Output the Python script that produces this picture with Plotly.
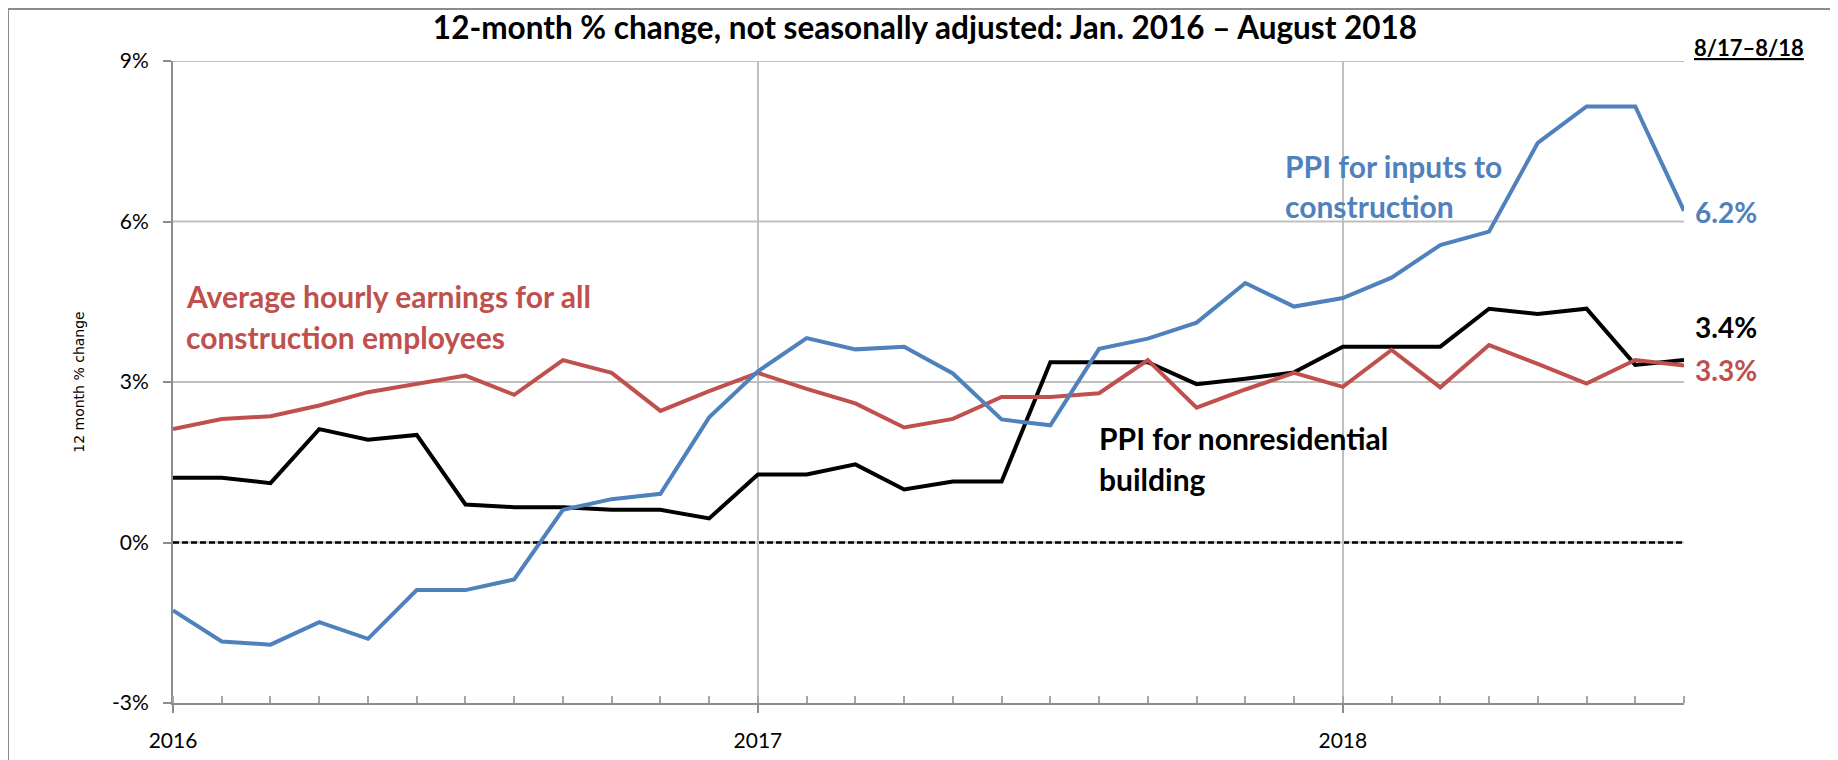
import pandas as pd
import plotly.graph_objects as go

# ---- data (12-month % change), Jan 2016 .. Aug 2018 ----
months = pd.date_range("2016-01-01", "2018-08-01", freq="MS").strftime("%b %Y").tolist()

ppi_inputs = [-1.27, -1.85, -1.91, -1.49, -1.80, -0.89, -0.89, -0.69, 0.61, 0.81, 0.91, 2.34,
              3.20, 3.82, 3.61, 3.66, 3.16, 2.30, 2.19, 3.62, 3.81, 4.11, 4.85, 4.41,
              4.57, 4.95, 5.56, 5.81, 7.47, 8.15, 8.15, 6.20]
ppi_nonres = [1.21, 1.21, 1.11, 2.12, 1.92, 2.01, 0.71, 0.66, 0.66, 0.61, 0.61, 0.45,
              1.27, 1.27, 1.46, 0.99, 1.14, 1.14, 3.37, 3.37, 3.37, 2.96, 3.06, 3.18,
              3.66, 3.66, 3.66, 4.37, 4.27, 4.37, 3.32, 3.41]
ahe_constr = [2.12, 2.31, 2.36, 2.56, 2.81, 2.97, 3.12, 2.76, 3.41, 3.17, 2.46, 2.83,
              3.17, 2.87, 2.60, 2.15, 2.31, 2.72, 2.72, 2.79, 3.41, 2.52, 2.86, 3.17,
              2.91, 3.60, 2.90, 3.69, 3.34, 2.97, 3.41, 3.31]

year_ticks = ["2016", "2017", "2018"]
y_ticks = [-3, 0, 3, 6, 9]
grid_y = [0, 3, 6, 9]

BLUE = "#4F81BD"
RED = "#C0504D"
BLACK = "#000000"
FONT = "Lato"

x = list(range(len(months)))
year_pos = [x[months.index("Jan " + y)] for y in year_ticks]

# page body has an 8px margin; figure is sized/positioned to compensate
OFF = 8
W, H = 1830, 752
L, T = 173 - OFF, 61 - OFF
R = W - (1684 - OFF)
B = H - (703 - OFF)
pw, ph = W - L - R, H - T - B

fig = go.Figure()

for gy in grid_y:
    fig.add_hline(y=gy, line=dict(color="#BFBFBF", width=2), layer="below")
fig.add_hline(y=0, line=dict(color=BLACK, width=2.5, dash="6px,3px"), layer="below")

for vals, col, name in [(ppi_nonres, BLACK, "PPI for nonresidential building"),
                        (ahe_constr, RED, "Average hourly earnings for all construction employees"),
                        (ppi_inputs, BLUE, "PPI for inputs to construction")]:
    fig.add_trace(go.Scatter(x=x, y=vals, mode="lines", name=name, text=months,
                             line=dict(color=col, width=4), cliponaxis=False,
                             hovertemplate="%{text}: %{y:.1f}%<extra></extra>"))

def ann(text, px, py, color, size=30):
    # px, py: screen pixel position (left edge, vertical middle)
    px, py = px - OFF, py - OFF
    fig.add_annotation(x=(px - L) / pw, y=(H - B - py) / ph, xref="paper", yref="paper",
                       text="<b>%s</b>" % text, showarrow=False,
                       xanchor="left", yanchor="middle",
                       font=dict(family=FONT, size=size, color=color))

ann("Average hourly earnings for all", 184, 296, RED)
ann("construction employees", 184, 337, RED)
ann("PPI for inputs to", 1283, 166, BLUE)
ann("construction", 1283, 206, BLUE)
ann("PPI for nonresidential", 1097, 438, BLACK)
ann("building", 1097, 479, BLACK)
ann("6.2%", 1693, 212, BLUE, size=28)
ann("3.4%", 1693, 327, BLACK, size=28)
ann("3.3%", 1693, 370, RED, size=28)
ann("<u>8/17–8/18</u>", 1692, 47, BLACK, size=22)

# outer frame along the figure edge
fig.add_shape(type="rect", xref="paper", yref="paper",
              x0=(0 - L) / pw, x1=(W + 4 - L) / pw,
              y0=(H - B - (H + 4)) / ph, y1=(H - B - 1) / ph,
              line=dict(color="#8C8C8C", width=2), layer="below")

fig.update_layout(
    width=W, height=H,
    margin=dict(l=L, r=R, t=T, b=B, autoexpand=False),
    paper_bgcolor="white", plot_bgcolor="white",
    showlegend=False,
    title=dict(text="<b>12-month % change, not seasonally adjusted: Jan. 2016 – August 2018</b>",
               x=(925 - OFF - L) / pw, xref="paper", xanchor="center", y=1 - (28 - OFF) / H,
               yref="container", yanchor="middle",
               font=dict(family=FONT, size=31.5, color=BLACK)),
    font=dict(family=FONT, color=BLACK),
)

fig.update_xaxes(range=[0, len(months) - 1], tickmode="array", tickvals=year_pos, ticktext=year_ticks,
                 showgrid=True, gridcolor="#BFBFBF", gridwidth=2, automargin=False,
                 showline=True, linecolor="#8C8C8C", linewidth=2,
                 ticks="outside", ticklen=8, tickwidth=2, tickcolor="#8C8C8C",
                 tickfont=dict(family=FONT, size=21, color=BLACK), ticklabelstandoff=10,
                 minor=dict(tickmode="linear", tick0=0, dtick=1, ticks="inside", ticklen=7,
                            tickwidth=2, tickcolor="#A6A6A6", showgrid=False),
                 zeroline=False, fixedrange=True)

fig.update_yaxes(range=[-3, 9], tickmode="array", tickvals=y_ticks,
                 ticktext=["%d%%" % v for v in y_ticks], automargin=False,
                 showgrid=False, showline=True, linecolor="#8C8C8C", linewidth=2,
                 ticks="outside", ticklen=8, tickwidth=2, tickcolor="#8C8C8C",
                 tickfont=dict(family=FONT, size=21, color=BLACK), ticklabelstandoff=10,
                 zeroline=False, fixedrange=True,
                 title=dict(text="12 month % change", standoff=24,
                            font=dict(family="DejaVu Sans", size=14, color=BLACK)))

fig.write_html("out.html")
